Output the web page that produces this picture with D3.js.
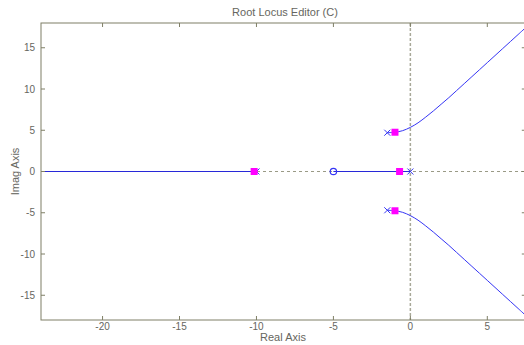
<!DOCTYPE html>
<html>
<head>
<meta charset="utf-8">
<script src="https://cdn.jsdelivr.net/npm/d3@7"></script>
<style>
  html, body { margin: 0; padding: 0; background: #fff; }
  svg { display: block; font-family: "Liberation Sans", Arial, sans-serif; }
</style>
</head>
<body>
<svg id="chart" width="524" height="345"></svg>
<script>
// Open-loop poles and zeros
const openPoles = [[0, 0], [-10, 0], [-1.5, 4.7], [-1.5, -4.7]];
const openZeros = [[-5, 0]];
// Closed-loop poles at the current gain
const closedPoles = [[-10.15, 0], [-0.7, 0], [-1.0, 4.76], [-1.0, -4.76]];

// Locus branches
const upperBranch = [[-1.5, 4.7], [-1.0, 4.76], [-0.5, 4.95], [0.0, 5.35], [0.5, 5.9],
  [1.0, 6.6], [1.5, 7.35], [2.0, 8.15], [2.5, 8.95], [3.0, 9.8], [3.5, 10.65],
  [4.0, 11.5], [4.5, 12.35], [5.0, 13.2], [5.5, 14.05], [6.0, 14.9], [6.5, 15.75],
  [7.0, 16.6], [7.5, 17.45]];
const lowerBranch = upperBranch.map(d => [d[0], -d[1]]);
const realSegments = [[[-24, 0], [-10, 0]], [[-5, 0], [0, 0]]];

const xTicks = [-20, -15, -10, -5, 0, 5];
const yTicks = [-15, -10, -5, 0, 5, 10, 15];

const svg = d3.select("#chart");
const plotLeft = 41, plotTop = 23, plotBottom = 320;
const pxPerUnit = 15.39;
const x = d3.scaleLinear().domain([-24, 7.5]).range([plotLeft, plotLeft + 31.5 * pxPerUnit]);
const y = d3.scaleLinear().domain([-18, 18]).range([plotBottom, plotTop]);
const plotRight = x(7.5);

const axisColor = "#7f7f66";
const textColor = "#666660";
const locusColor = "#3535f5";

const defs = svg.append("defs");
defs.append("clipPath").attr("id", "plotClip")
  .append("rect").attr("x", plotLeft).attr("y", plotTop)
  .attr("width", plotRight - plotLeft).attr("height", plotBottom - plotTop);

const plot = svg.append("g").attr("clip-path", "url(#plotClip)");

// Reference dashed axes through the origin
plot.append("line")
  .attr("x1", plotLeft).attr("x2", plotRight).attr("y1", y(0)).attr("y2", y(0))
  .attr("stroke", "#9a9a86").attr("stroke-width", 1).attr("stroke-dasharray", "3,3");
plot.append("line")
  .attr("x1", x(0)).attr("x2", x(0)).attr("y1", plotTop).attr("y2", plotBottom)
  .attr("stroke", "#a8a898").attr("stroke-width", 1.5).attr("stroke-dasharray", "3,2");

const line = d3.line().x(d => x(d[0])).y(d => y(d[1])).curve(d3.curveCatmullRom);
const straight = d3.line().x(d => x(d[0])).y(d => y(d[1]));

realSegments.forEach(seg => {
  plot.append("path").attr("d", straight(seg))
    .attr("fill", "none").attr("stroke", "#2828d8").attr("stroke-width", 1.2);
});
[upperBranch, lowerBranch].forEach(b => {
  plot.append("path").attr("d", line(b))
    .attr("fill", "none").attr("stroke", locusColor).attr("stroke-width", 1);
});

// Open-loop poles (x)
const s = 3;
plot.selectAll(".pole").data(openPoles).enter().append("path")
  .attr("class", "pole")
  .attr("d", d => {
    const cx = x(d[0]), cy = y(d[1]);
    return `M${cx - s},${cy - s}L${cx + s},${cy + s}M${cx - s},${cy + s}L${cx + s},${cy - s}`;
  })
  .attr("stroke", locusColor).attr("stroke-width", 1).attr("fill", "none");

// Open-loop zeros (o)
plot.selectAll(".zero").data(openZeros).enter().append("circle")
  .attr("class", "zero")
  .attr("cx", d => x(d[0])).attr("cy", d => y(d[1])).attr("r", 3.2)
  .attr("fill", "none").attr("stroke", locusColor).attr("stroke-width", 1.2);

// Closed-loop poles (squares)
const sq = 7;
plot.selectAll(".cl").data(closedPoles).enter().append("rect")
  .attr("class", "cl")
  .attr("x", d => x(d[0]) - sq / 2).attr("y", d => y(d[1]) - sq / 2)
  .attr("width", sq).attr("height", sq)
  .attr("fill", "#ff00ff");

// Frame
svg.append("rect")
  .attr("x", plotLeft).attr("y", plotTop).attr("width", plotRight - plotLeft).attr("height", plotBottom - plotTop)
  .attr("fill", "none").attr("stroke", axisColor).attr("stroke-width", 1);

// Inward ticks
const tk = 4;
xTicks.forEach(t => {
  svg.append("line").attr("x1", x(t)).attr("x2", x(t)).attr("y1", plotBottom).attr("y2", plotBottom - tk)
    .attr("stroke", axisColor);
  svg.append("line").attr("x1", x(t)).attr("x2", x(t)).attr("y1", plotTop).attr("y2", plotTop + tk)
    .attr("stroke", axisColor);
  svg.append("text").attr("x", x(t)).attr("y", plotBottom + 10)
    .attr("text-anchor", "middle").attr("font-size", 10).attr("fill", textColor).text(t);
});
yTicks.forEach(t => {
  svg.append("line").attr("x1", plotLeft).attr("x2", plotLeft + tk).attr("y1", y(t)).attr("y2", y(t))
    .attr("stroke", axisColor);
  svg.append("line").attr("x1", plotRight).attr("x2", plotRight - tk).attr("y1", y(t)).attr("y2", y(t))
    .attr("stroke", axisColor);
  svg.append("text").attr("x", plotLeft - 6).attr("y", y(t) + 3.5)
    .attr("text-anchor", "end").attr("font-size", 10).attr("fill", textColor).text(t);
});

// Titles
svg.append("text").attr("x", 285).attr("y", 16).attr("text-anchor", "middle")
  .attr("font-size", 11).attr("fill", textColor).text("Root Locus Editor (C)");
svg.append("text").attr("x", 283).attr("y", 341).attr("text-anchor", "middle")
  .attr("font-size", 11).attr("fill", textColor).text("Real Axis");
svg.append("text").attr("transform", `translate(19,${y(0)}) rotate(-90)`)
  .attr("text-anchor", "middle").attr("font-size", 11).attr("fill", textColor).text("Imag Axis");
</script>
</body>
</html>
